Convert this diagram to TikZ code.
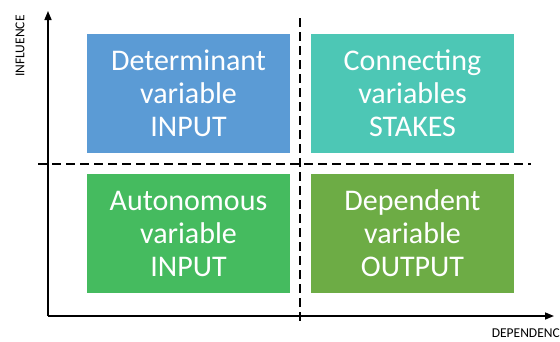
\documentclass[tikz,border=0pt]{standalone}
\usepackage{fontspec}
\setmainfont{Carlito}
\usetikzlibrary{arrows.meta}
\definecolor{cblue}{HTML}{5B9BD5}
\definecolor{cteal}{HTML}{4DC7B5}
\definecolor{cgreen}{HTML}{45BB5F}
\definecolor{colive}{HTML}{6DAC45}
\tikzset{
  quad/.style={fill=#1, draw=none, text=white, align=center, font=\fontsize{30}{33}\selectfont},
  axis/.style={line width=1.6pt, -{Triangle[length=9pt,width=7pt]}},
  divider/.style={line width=1.2pt, dash pattern=on 9pt off 5pt},
  axlabel/.style={font=\fontsize{13.5}{15}\selectfont, inner sep=0pt}
}
\begin{document}
\begin{tikzpicture}[x=1pt,y=-1pt]
\useasboundingbox (0,0) rectangle (560,341);
\fill[white] (0,0) rectangle (560,341);
% boxes
\path[quad=cblue] (87,34) rectangle (290,153) node[pos=0.5] (det) {Determinant\\variable\\INPUT};
\path[quad=cteal] (311,34) rectangle (514,153) node[pos=0.5] (con) {Connecting\\variables\\STAKES};
\path[quad=cgreen] (87,174) rectangle (290,293) node[pos=0.5] (aut) {Autonomous\\variable\\INPUT};
\path[quad=colive] (311,174) rectangle (514,293) node[pos=0.5] (dep) {Dependent\\variable\\OUTPUT};
% dividers
\coordinate (vt) at (300,18);
\coordinate (vb) at (300,322);
\coordinate (hl) at (38,164);
\coordinate (hr) at (531,164);
\draw[divider] (vt) -- (vb);
\draw[divider] (hl) -- (hr);
% axes
\coordinate (o) at (48,316);
\coordinate (yt) at (48,11);
\coordinate (xr) at (554,316);
\draw[axis] (o) -- (yt);
\draw[axis] (o) -- (xr);
\node[axlabel, rotate=90] (infl) at (20,46) {INFLUENCE};
\node[axlabel, anchor=east] (depl) at (560,333) {DEPENDENC};
\end{tikzpicture}
\end{document}
